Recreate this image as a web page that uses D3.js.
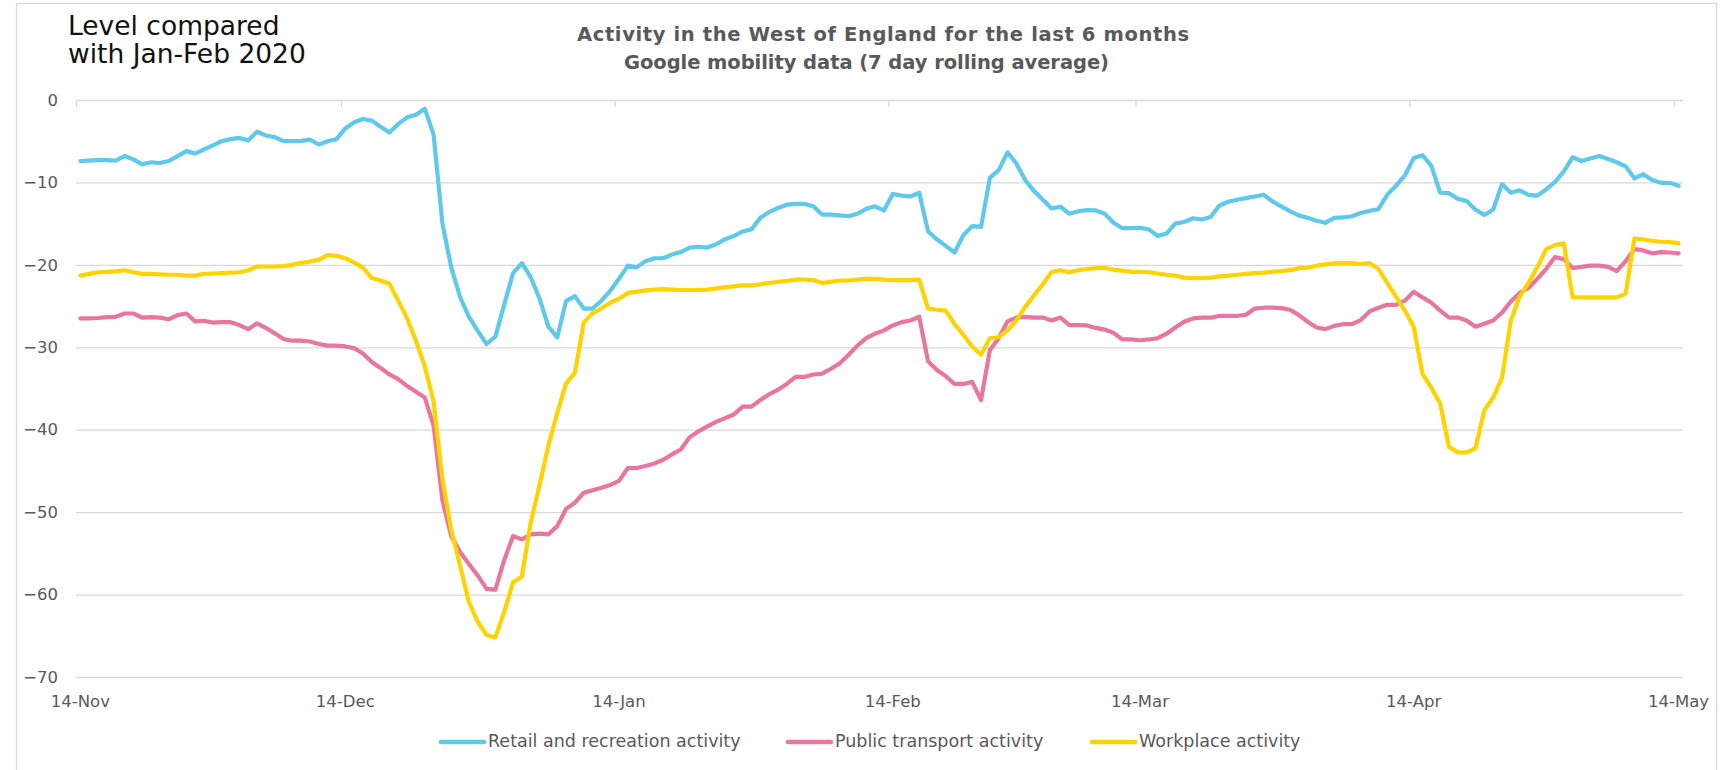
<!DOCTYPE html>
<html>
<head>
<meta charset="utf-8">
<script src="https://cdn.jsdelivr.net/npm/d3@7"></script>
<style>
  html, body { margin: 0; padding: 0; background: #ffffff; }
  svg { display: block; }
  text { font-family: "DejaVu Sans", "Liberation Sans", sans-serif; }
</style>
</head>
<body>
<svg id="chart" width="1722" height="770"></svg>
<script>
// Google mobility, West of England, 7-day rolling average, % change vs Jan-Feb 2020.
// One value per day from 14 Nov 2020 to 14 May 2021.
const firstDay = Date.UTC(2020, 10, 14);
const lastAxisDay = Date.UTC(2021, 4, 15);

const retail = [
  -7.4, -7.35, -7.3, -7.3, -7.35, -6.8, -7.2, -7.8, -7.55, -7.65,
  -7.4, -6.8, -6.2, -6.5, -6.0, -5.5, -5.0, -4.75, -4.6, -4.9,
  -3.85, -4.3, -4.5, -5.0, -5.0, -4.95, -4.8, -5.4, -5.0, -4.75,
  -3.45, -2.7, -2.3, -2.5, -3.25, -3.95, -2.9, -2.1, -1.8, -1.05,
  -4.2, -15.0, -20.3, -23.9, -26.3, -28.0, -29.6, -28.7, -24.8, -21.0,
  -19.8, -21.5, -24.1, -27.5, -28.8, -24.4, -23.8, -25.3, -25.3, -24.35,
  -23.15, -21.7, -20.1, -20.3, -19.55, -19.2, -19.2, -18.75, -18.45, -17.9,
  -17.8, -17.9, -17.5, -16.9, -16.5, -15.95, -15.7, -14.3, -13.6, -13.1,
  -12.7, -12.6, -12.6, -12.9, -13.9, -13.9, -14.0, -14.1, -13.8, -13.2,
  -12.9, -13.4, -11.4, -11.6, -11.7, -11.25, -15.95, -16.9, -17.7, -18.5,
  -16.4, -15.3, -15.4, -9.45, -8.5, -6.35, -7.7, -9.7, -11.05, -12.1,
  -13.15, -12.95, -13.8, -13.5, -13.35, -13.4, -13.8, -14.9, -15.55, -15.55,
  -15.5, -15.7, -16.5, -16.2, -15.0, -14.8, -14.35, -14.5, -14.2, -12.8,
  -12.35, -12.1, -11.9, -11.7, -11.5, -12.3, -12.9, -13.5, -14.0, -14.3,
  -14.65, -14.9, -14.3, -14.25, -14.1, -13.7, -13.45, -13.25, -11.5, -10.4,
  -9.15, -7.05, -6.7, -8.0, -11.25, -11.3, -12.0, -12.25, -13.3, -13.95,
  -13.3, -10.2, -11.25, -10.95, -11.5, -11.6, -10.85, -9.95, -8.65, -6.95,
  -7.4, -7.1, -6.8, -7.15, -7.55, -8.05, -9.5, -9.0, -9.7, -10.05,
  -10.05, -10.4
];

const transport = [
  -26.5, -26.5, -26.45, -26.35, -26.3, -25.9, -25.9, -26.4, -26.35, -26.4,
  -26.6, -26.1, -25.9, -26.85, -26.8, -27.0, -26.95, -26.95, -27.3, -27.8,
  -27.1, -27.65, -28.3, -29.0, -29.2, -29.2, -29.3, -29.6, -29.8, -29.8,
  -29.9, -30.1, -30.75, -31.8, -32.5, -33.3, -33.85, -34.7, -35.4, -36.1,
  -39.5, -48.6, -52.9, -54.85, -56.3, -57.7, -59.3, -59.4, -55.8, -52.9,
  -53.3, -52.7, -52.6, -52.7, -51.7, -49.6, -48.85, -47.65, -47.35, -47.05,
  -46.7, -46.2, -44.65, -44.65, -44.4, -44.1, -43.65, -43.0, -42.4, -40.9,
  -40.2, -39.6, -39.05, -38.6, -38.15, -37.2, -37.2, -36.4, -35.7, -35.15,
  -34.45, -33.6, -33.6, -33.3, -33.2, -32.6, -31.95, -30.9, -29.8, -28.9,
  -28.35, -27.95, -27.35, -26.95, -26.75, -26.3, -31.7, -32.75, -33.5, -34.45,
  -34.45, -34.2, -36.4, -30.35, -28.9, -26.85, -26.4, -26.3, -26.4, -26.4,
  -26.75, -26.4, -27.3, -27.3, -27.35, -27.65, -27.85, -28.25, -29.05, -29.05,
  -29.15, -29.05, -28.9, -28.35, -27.6, -26.9, -26.5, -26.4, -26.4, -26.2,
  -26.2, -26.2, -26.05, -25.3, -25.2, -25.2, -25.25, -25.45, -26.1, -26.9,
  -27.6, -27.8, -27.4, -27.2, -27.2, -26.7, -25.65, -25.2, -24.85, -24.85,
  -24.35, -23.25, -23.95, -24.6, -25.55, -26.4, -26.4, -26.75, -27.5, -27.15,
  -26.75, -25.8, -24.45, -23.4, -22.8, -21.7, -20.5, -19.05, -19.3, -20.4,
  -20.25, -20.1, -20.1, -20.25, -20.75, -19.55, -18.1, -18.25, -18.6, -18.45,
  -18.5, -18.6
];

const workplace = [
  -21.3, -21.1, -20.9, -20.85, -20.8, -20.65, -20.9, -21.1, -21.1, -21.15,
  -21.2, -21.2, -21.3, -21.3, -21.1, -21.05, -21.0, -20.95, -20.9, -20.65,
  -20.2, -20.2, -20.2, -20.15, -20.0, -19.75, -19.6, -19.4, -18.8, -18.9,
  -19.2, -19.7, -20.35, -21.6, -21.9, -22.3, -24.35, -26.5, -29.2, -32.3,
  -36.6, -46.0, -52.2, -56.5, -60.9, -63.3, -64.9, -65.2, -62.1, -58.5,
  -57.8, -51.25, -46.7, -41.9, -38.0, -34.4, -33.1, -27.0, -25.85, -25.3,
  -24.6, -24.1, -23.4, -23.25, -23.1, -23.0, -22.95, -23.0, -23.05, -23.05,
  -23.05, -23.0, -22.85, -22.7, -22.6, -22.5, -22.5, -22.35, -22.2, -22.05,
  -21.95, -21.8, -21.8, -21.85, -22.2, -22.05, -21.9, -21.9, -21.8, -21.7,
  -21.7, -21.8, -21.85, -21.85, -21.85, -21.8, -25.3, -25.45, -25.55, -27.2,
  -28.5, -29.9, -30.9, -28.9, -28.8, -27.95, -26.75, -25.1, -23.7, -22.35,
  -20.85, -20.65, -20.9, -20.65, -20.5, -20.4, -20.35, -20.6, -20.7, -20.85,
  -20.85, -20.9, -21.05, -21.2, -21.3, -21.55, -21.6, -21.6, -21.55, -21.4,
  -21.3, -21.2, -21.1, -21.0, -20.95, -20.85, -20.75, -20.65, -20.4, -20.35,
  -20.1, -19.95, -19.8, -19.8, -19.8, -19.9, -19.8, -20.5, -22.2, -23.85,
  -25.55, -27.5, -33.25, -34.9, -36.85, -42.1, -42.75, -42.75, -42.25, -37.65,
  -36.1, -33.7, -26.75, -23.85, -22.2, -20.3, -18.1, -17.6, -17.4, -23.95,
  -23.95, -23.95, -23.95, -23.95, -23.95, -23.5, -16.8, -16.9, -17.1, -17.2,
  -17.25, -17.4
];

const seriesNames = ["Retail and recreation activity", "Public transport activity", "Workplace activity"];
const seriesColors = ["#5ec9ea", "#e8769e", "#ffd300"];

const tickLabels = ["14-Nov", "14-Dec", "14-Jan", "14-Feb", "14-Mar", "14-Apr", "14-May"];
const tickDates = [
  Date.UTC(2020, 10, 14), Date.UTC(2020, 11, 14), Date.UTC(2021, 0, 14),
  Date.UTC(2021, 1, 14), Date.UTC(2021, 2, 14), Date.UTC(2021, 3, 14), Date.UTC(2021, 4, 14)
];
const yTicks = [0, -10, -20, -30, -40, -50, -60, -70];

const titleLines = ["Activity in the West of England for the last 6 months",
                    "Google mobility data (7 day rolling average)"];
const unitLines = ["Level compared", "with Jan-Feb 2020"];

// ---- layout ----
const svg = d3.select("#chart");
const plotLeft = 76, plotRight = 1683;
const x = d3.scaleUtc().domain([new Date(firstDay), new Date(lastAxisDay)]).range([plotLeft, plotRight]);
const y = d3.scaleLinear().domain([-70, 0]).range([677, 100]);
const halfDay = (x(new Date(firstDay + 86400000)) - x(new Date(firstDay))) / 2;
const dayDate = i => d3.utcDay.offset(new Date(firstDay), i);

// outer frame
svg.append("rect")
  .attr("x", 16.5).attr("y", 3.5).attr("width", 1700).attr("height", 800)
  .attr("fill", "#ffffff").attr("stroke", "#d9d9d9").attr("stroke-width", 1.3);

// titles
const titleBox = [{ x: 577, len: 612 }, { x: 624, len: 485 }];
svg.append("g").selectAll("text").data(titleLines).join("text")
  .attr("x", (d, i) => titleBox[i].x).attr("y", (d, i) => 35 + i * 28)
  .attr("textLength", (d, i) => titleBox[i].len).attr("lengthAdjust", "spacing")
  .attr("dominant-baseline", "middle")
  .attr("font-size", 19.5).attr("font-weight", "bold").attr("fill", "#595959")
  .text(d => d);

svg.append("g").selectAll("text").data(unitLines).join("text")
  .attr("x", 68).attr("y", (d, i) => 35 + i * 28)
  .attr("font-size", 26.5).attr("fill", "#111111")
  .text(d => d);

// horizontal gridlines
const yAxis = d3.axisLeft(y).tickValues(yTicks).tickSize(-(plotRight - plotLeft)).tickPadding(18)
  .tickFormat(d3.format("d"));
const gy = svg.append("g").attr("transform", `translate(${plotLeft},0)`).call(yAxis);
gy.select(".domain").remove();
gy.selectAll(".tick line").attr("stroke", "#d9d9d9").attr("stroke-width", 1.3);
gy.selectAll(".tick text").attr("font-size", 16.5).attr("fill", "#595959")
  .attr("font-family", "DejaVu Sans, sans-serif");

// date axis sits on the zero line, with labels at the bottom
const xTicks = d3.axisBottom(x).tickValues(tickDates.map(t => new Date(t))).tickSize(7).tickFormat("");
const gx = svg.append("g").attr("transform", `translate(0,${y(0)})`).call(xTicks);
gx.select(".domain").remove();
gx.selectAll(".tick line").attr("stroke", "#d9d9d9").attr("stroke-width", 1.3);

svg.append("g").selectAll("text").data(tickLabels).join("text")
  .attr("x", (d, i) => x(new Date(tickDates[i])) + halfDay)
  .attr("y", 702)
  .attr("text-anchor", "middle").attr("dominant-baseline", "middle")
  .attr("font-size", 16.5).attr("fill", "#595959")
  .text(d => d);

// series lines (points sit in the middle of each day)
const line = d3.line()
  .x((d, i) => x(dayDate(i)) + halfDay)
  .y(d => y(d));

const allSeries = [retail, transport, workplace];
svg.append("g").selectAll("path").data(allSeries).join("path")
  .attr("d", d => line(d))
  .attr("fill", "none")
  .attr("stroke", (d, i) => seriesColors[i])
  .attr("stroke-width", 4.2)
  .attr("stroke-linejoin", "round")
  .attr("stroke-linecap", "round");

// legend
const legendX = [441, 788, 1092];
const legend = svg.append("g").selectAll("g").data(seriesNames).join("g")
  .attr("transform", (d, i) => `translate(${legendX[i]},742)`);
legend.append("line")
  .attr("x1", 0).attr("x2", 43).attr("y1", 0).attr("y2", 0)
  .attr("stroke", (d, i) => seriesColors[i]).attr("stroke-width", 4.5).attr("stroke-linecap", "round");
legend.append("text")
  .attr("x", 47).attr("y", 0).attr("dominant-baseline", "middle")
  .attr("font-size", 17.5).attr("fill", "#595959")
  .text(d => d);
</script>
</body>
</html>
